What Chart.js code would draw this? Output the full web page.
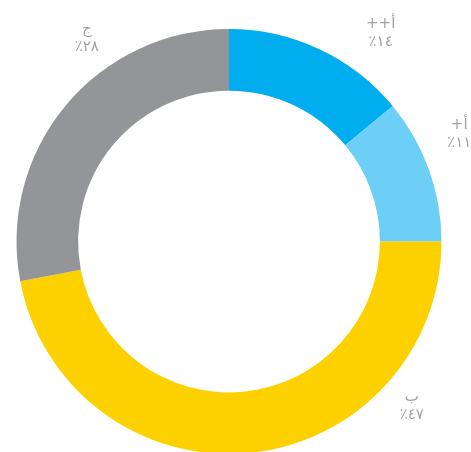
<!DOCTYPE html>
<html>
<head>
<meta charset="utf-8">
<script src="https://cdn.jsdelivr.net/npm/chart.js@4"></script>
<style>
  html, body { margin: 0; padding: 0; background: #fff; overflow: hidden; }
</style>
</head>
<body>
<canvas id="graph" width="471" height="460"></canvas>
<script>
// donnees du graph
const categories = ['أ++', 'أ+', 'ب', 'ج'];
const values = [14, 11, 47, 28];
const valueLabels = ['١٤٪', '١١٪', '٤٧٪', '٢٨٪'];

const colors = ['#00aeef', '#6dcff6', '#fdd000', '#939598'];
// position des etiquettes : angle (degres depuis le haut) et distance au centre
const labelAngles = [36, 65, 132, 325];
const labelRadius = [258, 254, 246, 248];

const labelPlugin = {
    id: 'arcLabels',
    afterDatasetsDraw(chart) {
        const ctx = chart.ctx;
        const arcs = chart.getDatasetMeta(0).data;
        ctx.save();
        ctx.direction = 'rtl';
        ctx.fillStyle = '#a2a4a7';
        ctx.font = '15px "DejaVu Sans"';
        ctx.textAlign = 'center';
        ctx.textBaseline = 'middle';
        arcs.forEach((arc, i) => {
            const a = labelAngles[i] * Math.PI / 180;
            const x = arc.x + Math.sin(a) * labelRadius[i];
            const y = arc.y - Math.cos(a) * labelRadius[i];
            ctx.fillText(categories[i], x, y - 9);
            ctx.fillText(valueLabels[i], x, y + 9);
        });
        ctx.restore();
    }
};

new Chart(document.getElementById('graph'), {
    type: 'doughnut',
    data: {
        labels: categories,
        datasets: [{
            data: values,
            backgroundColor: colors,
            borderWidth: 0
        }]
    },
    options: {
        responsive: false,
        animation: false,
        cutout: '71%',
        layout: { padding: { left: 16.5, right: 29.5, top: 29, bottom: 6 } },
        plugins: {
            legend: { display: false },
            tooltip: { enabled: false }
        }
    },
    plugins: [labelPlugin]
});
</script>
</body>
</html>
